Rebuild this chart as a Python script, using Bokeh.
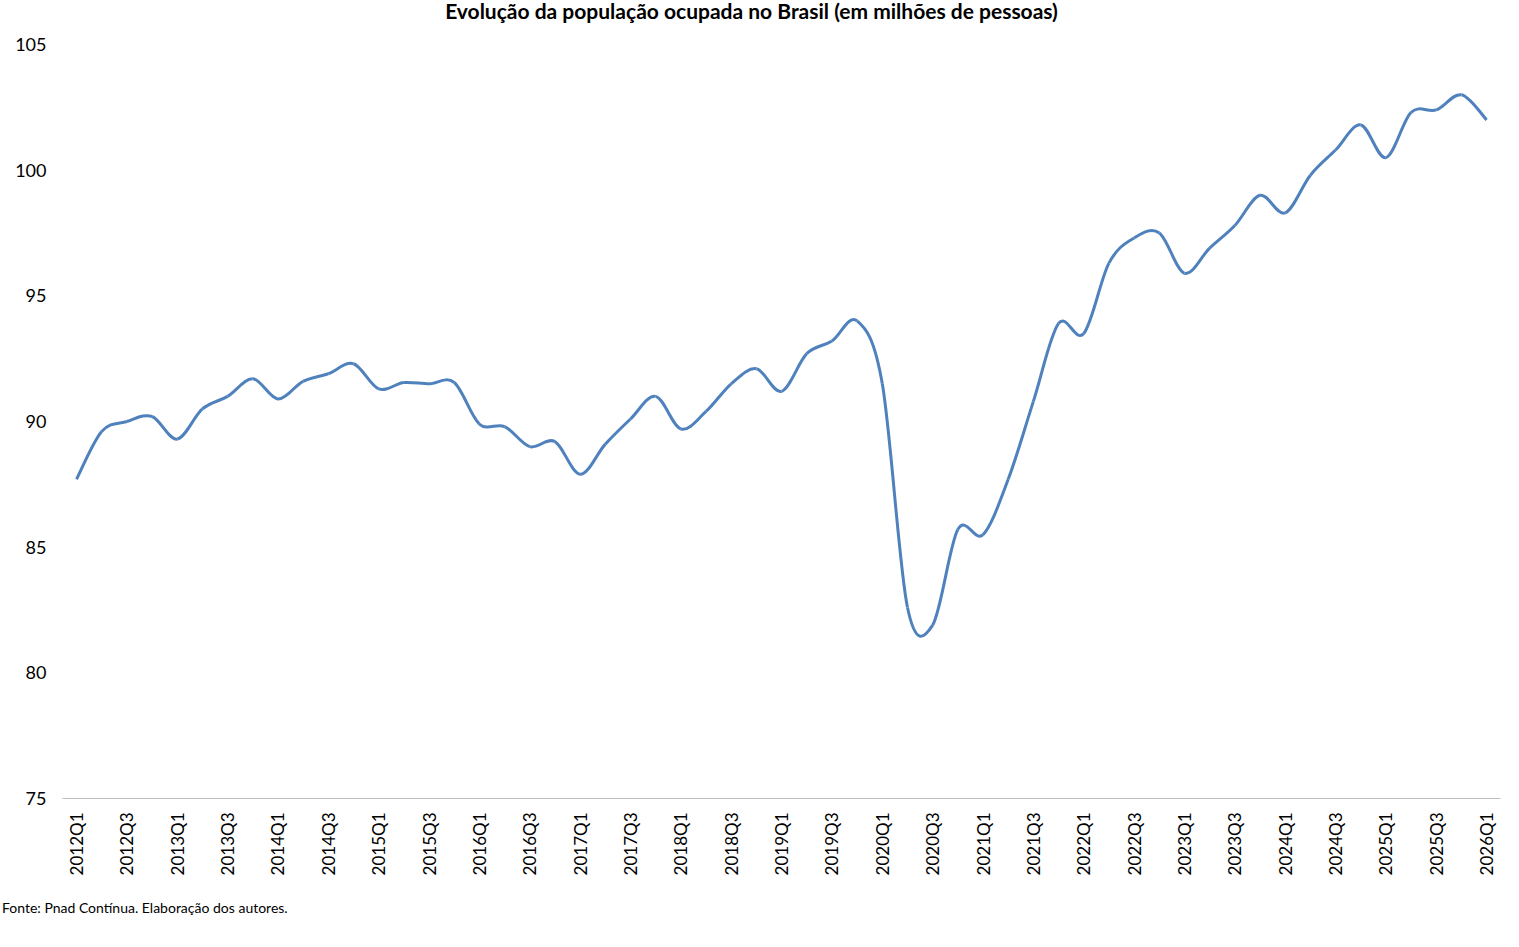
import numpy as np
from bokeh.plotting import figure
from bokeh.models import Range1d, FixedTicker, Div
from bokeh.layouts import column
from bokeh.embed import file_html
from bokeh.resources import INLINE

quarters = [f"{y}Q{q}" for y in range(2012, 2026) for q in range(1, 5)] + ["2026Q1"]
values = [87.7, 89.6, 90.0, 90.2, 89.3, 90.5, 91.0, 91.7, 90.9, 91.6, 91.9, 92.3,
          91.3, 91.55, 91.5, 91.55, 89.9, 89.8, 89.0, 89.2, 87.9, 89.1, 90.1, 91.0,
          89.7, 90.4, 91.5, 92.1, 91.2, 92.7, 93.2, 94.0, 91.5, 82.6, 81.9, 85.7,
          85.5, 87.7, 90.8, 93.9, 93.5, 96.3, 97.3, 97.5, 95.9, 96.9, 97.8, 99.0,
          98.3, 99.8, 100.8, 101.8, 100.5, 102.3, 102.4, 103.0, 102.0]
y_ticks = [75, 80, 85, 90, 95, 100, 105]
title_text = "Evolução da população ocupada no Brasil (em milhões de pessoas)"
source_text = "Fonte: Pnad Contínua. Elaboração dos autores."

n = len(values)
xs = np.arange(n, dtype=float)
ys = np.array(values)

p = figure(width=1503, height=862, output_backend="svg", toolbar_location=None,
           x_range=Range1d(-0.556, 56.55), y_range=Range1d(75, 105),
           min_border_left=62, min_border_right=3, min_border_top=8, min_border_bottom=100)
p.outline_line_color = None
p.grid.grid_line_color = None

xp = np.concatenate([[xs[0]], xs, [xs[-1]]])
yp = np.concatenate([[ys[0]], ys, [ys[-1]]])
t = 1 / 6
cx0 = xp[1:-2] + (xp[2:-1] - xp[:-3]) * t
cy0 = yp[1:-2] + (yp[2:-1] - yp[:-3]) * t
cx1 = xp[2:-1] - (xp[3:] - xp[1:-2]) * t
cy1 = yp[2:-1] - (yp[3:] - yp[1:-2]) * t
p.bezier(x0=xs[:-1], y0=ys[:-1], x1=xs[1:], y1=ys[1:], cx0=cx0, cy0=cy0, cx1=cx1, cy1=cy1,
         line_color="#4f81bd", line_width=3)

p.xaxis.ticker = FixedTicker(ticks=list(range(0, n, 2)))
p.xaxis.major_label_overrides = {i: quarters[i] for i in range(0, n, 2)}
p.xaxis.major_label_orientation = np.pi / 2
p.xaxis.major_label_text_font = "Lato"
p.xaxis.major_label_text_font_size = "17px"
p.xaxis.major_label_text_color = "black"
p.xaxis.axis_line_color = "#bfbfbf"
p.xaxis.major_tick_line_color = None
p.xaxis.minor_tick_line_color = None
p.xaxis.major_label_standoff = 8

p.yaxis.ticker = FixedTicker(ticks=y_ticks)
p.yaxis.axis_line_color = None
p.yaxis.major_tick_line_color = None
p.yaxis.minor_tick_line_color = None
p.yaxis.major_label_text_font = "Lato"
p.yaxis.major_label_text_font_size = "18px"
p.yaxis.major_label_text_color = "black"
p.yaxis.major_label_standoff = 10

title = Div(text=title_text, width=1503, height=36, margin=0,
            styles={"text-align": "center", "font-family": "Lato", "font-weight": "bold",
                    "font-size": "21px", "color": "black", "width": "1503px", "line-height": "22px"})
foot = Div(text=source_text, width=1503, height=26, margin=0,
           styles={"font-family": "Lato", "font-size": "14px", "color": "black",
                   "padding-left": "2px", "line-height": "20px"})

layout = column(title, p, foot, spacing=0)
open("out.html", "w").write(file_html(layout, INLINE))
